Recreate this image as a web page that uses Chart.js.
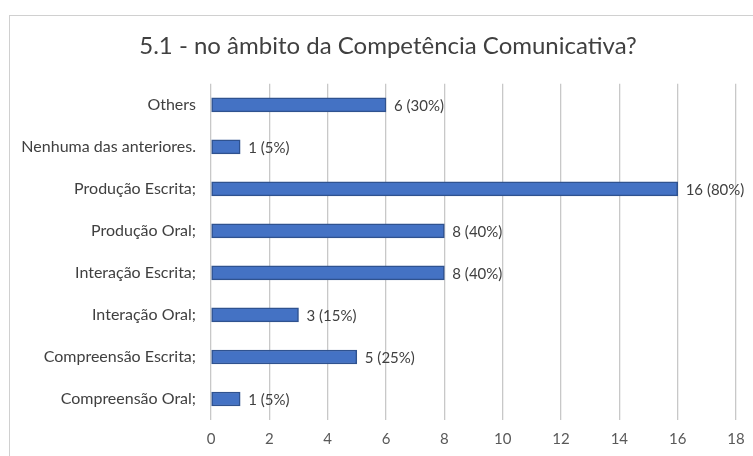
<!DOCTYPE html>
<html lang="pt">

<head>
    <meta charset="UTF-8">
    <title>5.1 - no âmbito da Competência Comunicativa?</title>
    <style>
        body {
            margin: 0;
            background: #fff;
            overflow: hidden;
        }

        .frame {
            position: absolute;
            left: 9px;
            top: 15px;
            width: 800px;
            height: 500px;
            border: 1px solid #d0d0d0;
        }

        .wrap {
            position: absolute;
            left: 0;
            top: 0;
            width: 776px;
            height: 456px;
        }
    </style>
</head>

<body>
    <div class="frame"></div>
    <div class="wrap">
        <canvas id="chart" width="776" height="456"></canvas>
    </div>

    <script src="https://cdn.jsdelivr.net/npm/chart.js"></script>

    <script>
        const categories = [
            "Others",
            "Nenhuma das anteriores.",
            "Produção Escrita;",
            "Produção Oral;",
            "Interação Escrita;",
            "Interação Oral;",
            "Compreensão Escrita;",
            "Compreensão Oral;"
        ];
        const counts = [6, 1, 16, 8, 8, 3, 5, 1];
        const percents = [30, 5, 80, 40, 40, 15, 25, 5];
        const xTicks = [0, 2, 4, 6, 8, 10, 12, 14, 16, 18];

        const fontFamily = "Lato, 'Open Sans', sans-serif";

        // writes "n (p%)" just right of each bar
        const barLabels = {
            id: "barLabels",
            afterDatasetsDraw(chart) {
                const c = chart.ctx;
                const meta = chart.getDatasetMeta(0);
                c.save();
                c.font = "15px " + fontFamily;
                c.fillStyle = "#404040";
                c.textAlign = "left";
                c.textBaseline = "middle";
                meta.data.forEach((bar, i) => {
                    c.fillText(counts[i] + " (" + percents[i] + "%)", bar.x + 8, bar.y + 1);
                });
                c.restore();
            }
        };

        let ctx = document.getElementById("chart").getContext("2d");
        let chart = new Chart(ctx, {
            type: "bar",
            data: {
                labels: categories,
                datasets: [{
                    data: counts,
                    backgroundColor: "#4472c4",
                    borderColor: "#2f528f",
                    borderWidth: 1.5,
                    borderSkipped: false,
                    barThickness: 14
                }]
            },
            options: {
                indexAxis: "y",
                responsive: false,
                animation: false,
                layout: {
                    padding: 0
                },
                plugins: {
                    legend: { display: false },
                    tooltip: { enabled: false },
                    title: {
                        display: true,
                        text: "5.1 - no âmbito da Competência Comunicativa?",
                        color: "#404040",
                        font: { family: fontFamily, size: 24, weight: "normal" },
                        padding: { top: 32, bottom: 23 }
                    }
                },
                scales: {
                    x: {
                        min: 0,
                        max: 18,
                        afterBuildTicks(scale) {
                            scale.ticks = xTicks.map(v => ({ value: v }));
                        },
                        afterFit(scale) {
                            scale.height = 36;
                        },
                        grid: {
                            color: "#c8c8c8",
                            lineWidth: 1.3,
                            drawTicks: false
                        },
                        border: { display: false },
                        ticks: {
                            padding: 10,
                            color: "#595959",
                            font: { family: fontFamily, size: 15 }
                        }
                    },
                    y: {
                        afterFit(scale) {
                            scale.width = 211;
                        },
                        grid: { display: false },
                        border: { display: false },
                        ticks: {
                            padding: 7,
                            color: "#404040",
                            font: { family: fontFamily, size: 16 }
                        }
                    },
                    // empty right margin so the title centres on the frame
                    yRight: {
                        axis: "y",
                        type: "category",
                        position: "right",
                        afterFit(scale) {
                            scale.width = 40;
                        },
                        grid: { display: false },
                        border: { display: false },
                        ticks: { display: false }
                    }
                }
            },
            plugins: [barLabels]
        });
    </script>
</body>

</html>
